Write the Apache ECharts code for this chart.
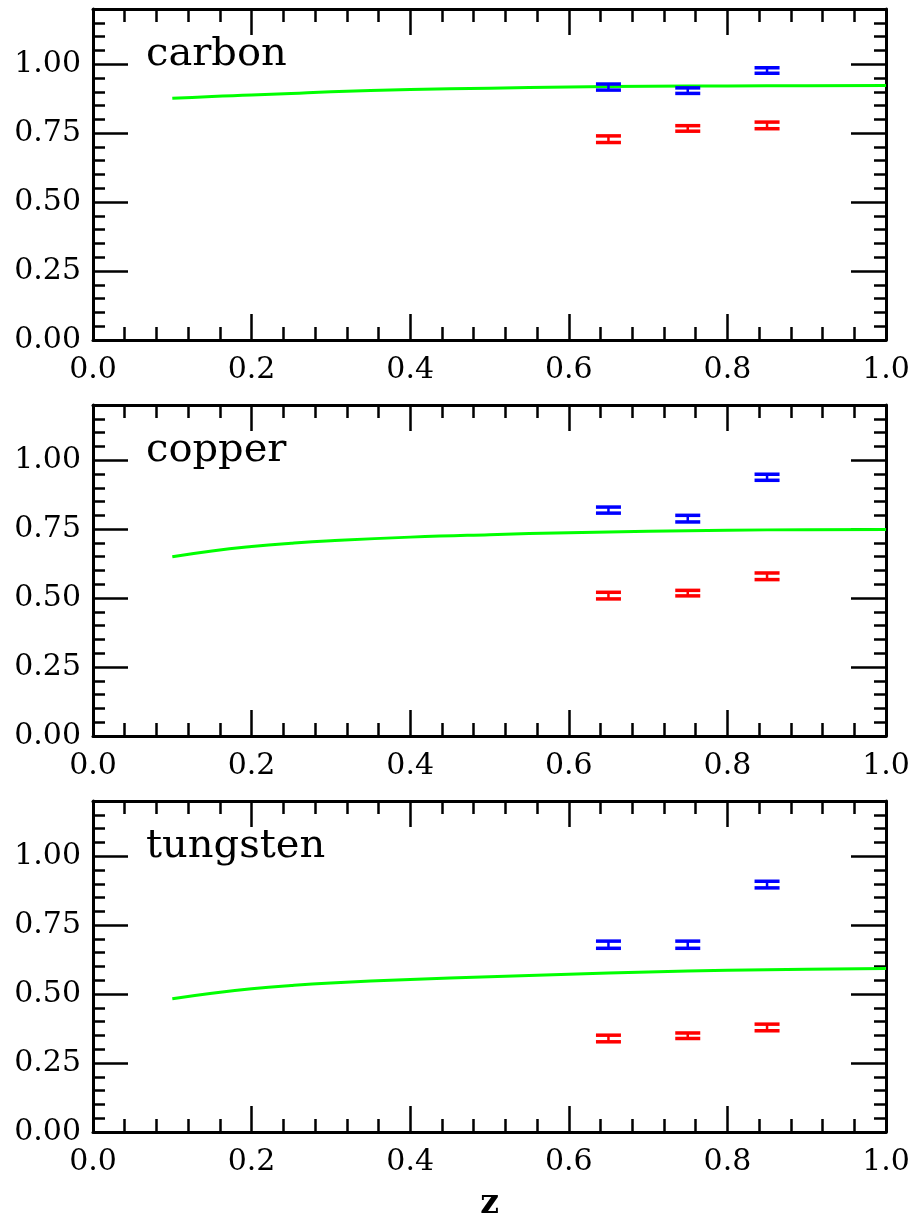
<!DOCTYPE html>
<html>
<head>
<meta charset="utf-8">
<script src="https://cdn.jsdelivr.net/npm/echarts@6/dist/echarts.min.js"></script>
<style>
  html, body { margin: 0; padding: 0; background: #fff; }
  #chart { width: 916px; height: 1218px; }
</style>
</head>
<body>
<div id="chart"></div>
<script>
// Theory curve sample points (z)
const curveZ = [0.1, 0.15, 0.2, 0.25, 0.3, 0.4, 0.5, 0.6, 0.7, 0.8, 0.9, 1.0];
const carbonCurve   = [0.876, 0.883, 0.888, 0.894, 0.900, 0.908, 0.913, 0.917, 0.920, 0.921, 0.922, 0.923];
const copperCurve   = [0.650, 0.671, 0.687, 0.699, 0.708, 0.721, 0.730, 0.737, 0.742, 0.746, 0.748, 0.749];
const tungstenCurve = [0.483, 0.503, 0.519, 0.531, 0.540, 0.553, 0.563, 0.572, 0.580, 0.586, 0.590, 0.593];

// Measured points: z bins, values and half-width of error bars
const zBins = [0.65, 0.75, 0.85];
const carbonBlue      = [0.917, 0.904, 0.977];
const carbonBlueErr   = [0.011, 0.010, 0.010];
const carbonRed       = [0.728, 0.767, 0.778];
const carbonRedErr    = [0.012, 0.010, 0.012];
const copperBlue      = [0.819, 0.788, 0.938];
const copperBlueErr   = [0.011, 0.012, 0.011];
const copperRed       = [0.509, 0.518, 0.579];
const copperRedErr    = [0.012, 0.010, 0.012];
const tungstenBlue    = [0.679, 0.679, 0.897];
const tungstenBlueErr = [0.013, 0.013, 0.012];
const tungstenRed     = [0.339, 0.349, 0.379];
const tungstenRedErr  = [0.012, 0.010, 0.012];

// Axis ticks
const xTicks = { min: 0, max: 1, major: 0.2, minorSplit: 5 };
const yTicks = { min: 0, max: 1.2, major: 0.25, minor: 0.05 };

const panelNames = ['carbon', 'copper', 'tungsten'];
const panels = [
  { curve: carbonCurve,   blue: carbonBlue,   blueErr: carbonBlueErr,   red: carbonRed,   redErr: carbonRedErr },
  { curve: copperCurve,   blue: copperBlue,   blueErr: copperBlueErr,   red: copperRed,   redErr: copperRedErr },
  { curve: tungstenCurve, blue: tungstenBlue, blueErr: tungstenBlueErr, red: tungstenRed, redErr: tungstenRedErr }
];

const FONT = 'DejaVu Serif';
const gridTops = [9, 405, 801];
const gridH = 331;

function errorBar(color) {
  return function (params, api) {
    const x = api.value(0), y = api.value(1), e = api.value(2);
    const top = api.coord([x, y + e]);
    const bot = api.coord([x, y - e]);
    const hw = 12.5;
    return {
      type: 'group',
      children: [
        { type: 'line', shape: { x1: top[0], y1: top[1], x2: bot[0], y2: bot[1] }, style: { stroke: color, lineWidth: 2.5 } },
        { type: 'line', shape: { x1: top[0] - hw, y1: top[1], x2: top[0] + hw, y2: top[1] }, style: { stroke: color, lineWidth: 3.5 } },
        { type: 'line', shape: { x1: bot[0] - hw, y1: bot[1], x2: bot[0] + hw, y2: bot[1] }, style: { stroke: color, lineWidth: 3.5 } }
      ]
    };
  };
}

const frameLine = { show: true, onZero: false, lineStyle: { color: '#000', width: 3 } };
const tickStyle = { color: '#000', width: 2.5 };
const grid = [], xAxis = [], yAxis = [], series = [], title = [];

panels.forEach((p, g) => {
  grid.push({ left: 93, right: 30, top: gridTops[g], height: gridH, outerBoundsMode: 'none', containLabel: false });

  // bottom x axis with labels
  xAxis.push({
    type: 'value', gridIndex: g, position: 'bottom',
    min: xTicks.min, max: xTicks.max, interval: xTicks.major,
    axisLine: frameLine, splitLine: { show: false },
    axisTick: { show: true, inside: true, length: 26, lineStyle: tickStyle },
    minorTick: { show: true, splitNumber: xTicks.minorSplit, length: 13, lineStyle: tickStyle },
    axisLabel: { color: '#000', fontFamily: FONT, fontSize: 30, margin: 15, formatter: v => v.toFixed(1) },
    name: g === 2 ? 'z' : '', nameLocation: 'middle', nameGap: 56,
    nameTextStyle: { color: '#000', fontFamily: FONT, fontSize: 33, fontWeight: 'bold' }
  });
  // top x axis (ticks only)
  xAxis.push({
    type: 'value', gridIndex: g, position: 'top',
    min: xTicks.min, max: xTicks.max, interval: xTicks.major,
    axisLine: frameLine, splitLine: { show: false }, axisLabel: { show: false },
    axisTick: { show: true, inside: true, length: 26, lineStyle: tickStyle },
    minorTick: { show: true, splitNumber: xTicks.minorSplit, length: 13, lineStyle: tickStyle }
  });

  const yMajor = (pos, labels) => ({
    type: 'value', gridIndex: g, position: pos,
    min: yTicks.min, max: yTicks.max, interval: yTicks.major,
    axisLine: frameLine, splitLine: { show: false },
    axisTick: { show: true, inside: true, length: 35, lineStyle: tickStyle },
    axisLabel: labels
      ? { color: '#000', fontFamily: FONT, fontSize: 30, margin: 12, showMaxLabel: false,
          formatter: v => (v > 1.1 ? '' : v.toFixed(2)) }
      : { show: false }
  });
  const yMinor = (pos) => ({
    type: 'value', gridIndex: g, position: pos,
    min: yTicks.min, max: yTicks.max, interval: yTicks.minor,
    axisLine: { show: false, onZero: false }, splitLine: { show: false }, axisLabel: { show: false },
    axisTick: { show: true, inside: true, length: 12, lineStyle: tickStyle }
  });
  yAxis.push(yMajor('left', true), yMinor('left'), yMajor('right', false), yMinor('right'));

  const xi = 2 * g, yi = 4 * g;
  series.push({
    type: 'line', xAxisIndex: xi, yAxisIndex: yi,
    data: curveZ.map((z, i) => [z, p.curve[i]]),
    smooth: true, showSymbol: false, silent: true,
    lineStyle: { color: '#00ff00', width: 3 }, z: 3
  });
  series.push({
    type: 'custom', xAxisIndex: xi, yAxisIndex: yi,
    data: zBins.map((z, i) => [z, p.blue[i], p.blueErr[i]]),
    encode: { x: 0, y: 1 }, renderItem: errorBar('#0000ff'), z: 4
  });
  series.push({
    type: 'custom', xAxisIndex: xi, yAxisIndex: yi,
    data: zBins.map((z, i) => [z, p.red[i], p.redErr[i]]),
    encode: { x: 0, y: 1 }, renderItem: errorBar('#ff0000'), z: 4
  });

  title.push({
    text: panelNames[g], left: 146, top: gridTops[g] + 26, padding: 0,
    textStyle: { color: '#000', fontFamily: FONT, fontSize: 40, fontWeight: 'normal' }
  });
});

const chart = echarts.init(document.getElementById('chart'), null, { renderer: 'canvas' });
chart.setOption({
  backgroundColor: '#fff',
  animation: false,
  title, grid, xAxis, yAxis, series
});
</script>
</body>
</html>
